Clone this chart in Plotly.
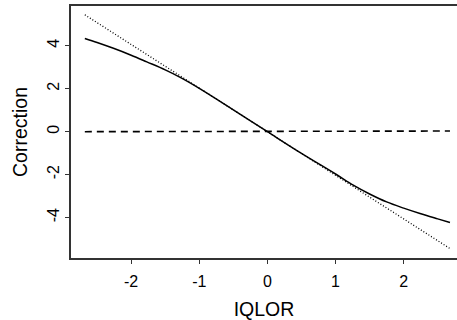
import plotly.graph_objects as go

# Data
curve_x = [-2.68, -2.5, -2.26, -2.0, -1.77, -1.5, -1.28, -1.0, -0.5, 0.0, 0.5, 1.0, 1.26, 1.5, 1.75, 2.0, 2.24, 2.5, 2.68]
curve_y = [4.34, 4.15, 3.88, 3.56, 3.25, 2.88, 2.53, 2.02, 1.02, 0.0, -1.01, -1.97, -2.49, -2.90, -3.27, -3.56, -3.81, -4.06, -4.23]

ident_x = [-2.68, 2.68]
ident_y = [5.44, -5.44]

zero_x = [-2.68, 2.68]
zero_y = [0.0, 0.03]

x_ticks = [-2, -1, 0, 1, 2]
y_ticks = [-4, -2, 0, 2, 4]

font = "Liberation Sans, Arial, Helvetica, sans-serif"

fig = go.Figure()
fig.add_trace(go.Scatter(x=ident_x, y=ident_y, mode="lines",
                         line=dict(color="black", width=1.3, dash="1px,2px"),
                         showlegend=False, hoverinfo="skip"))
fig.add_trace(go.Scatter(x=zero_x, y=zero_y, mode="lines",
                         line=dict(color="black", width=1.6, dash="7px,5px"),
                         showlegend=False, hoverinfo="skip"))
fig.add_trace(go.Scatter(x=curve_x, y=curve_y, mode="lines", line_shape="spline",
                         line=dict(color="black", width=1.5),
                         showlegend=False, hoverinfo="skip"))

fig.update_layout(
    width=457, height=320,
    margin=dict(l=71, r=0, t=6, b=62),
    paper_bgcolor="white", plot_bgcolor="white",
    font=dict(family=font, color="black", size=16),
)
fig.update_xaxes(
    range=[-2.883, 2.783], tickvals=x_ticks, ticktext=[str(v) for v in x_ticks],
    showgrid=False, zeroline=False, showline=True, mirror=True,
    linecolor="#333333", linewidth=1.5, automargin=False,
    ticks="outside", ticklen=4, tickcolor="#333333", tickwidth=1,
    tickfont=dict(size=16, family=font), ticklabelstandoff=4,
    title=dict(text="IQLOR", font=dict(size=19.5, family=font), standoff=13),
)
fig.update_yaxes(
    range=[-5.88, 5.85], tickvals=y_ticks, ticktext=[str(v) for v in y_ticks],
    showgrid=False, zeroline=False, showline=True, mirror=False,
    linecolor="#333333", linewidth=1.5, automargin=False,
    ticks="outside", ticklen=4, tickcolor="#333333", tickwidth=1,
    tickangle=-90, tickfont=dict(size=16, family=font), ticklabelstandoff=0,
    title=dict(text="Correction", font=dict(size=19.5, family=font), standoff=12),
)

fig.write_html("out.html", config={"displayModeBar": False},
               post_script="document.body.style.margin='0';document.body.style.padding='0';")
